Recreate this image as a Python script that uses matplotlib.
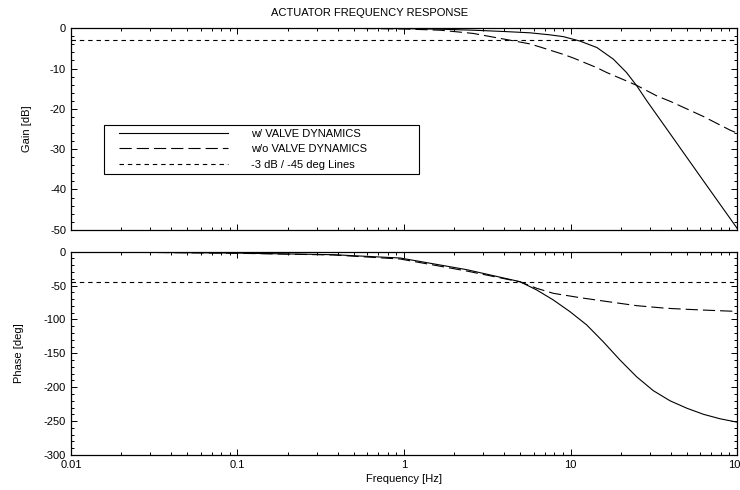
import numpy as np
import matplotlib
matplotlib.use('Agg')
import matplotlib.pyplot as plt
from matplotlib.lines import Line2D
from matplotlib.legend_handler import HandlerLine2D
from matplotlib.ticker import MultipleLocator, FixedLocator, FixedFormatter, LogLocator, NullFormatter

plt.rcParams['font.family'] = ['Liberation Sans', 'DejaVu Sans']
plt.rcParams['font.size'] = 8
plt.rcParams['axes.unicode_minus'] = False

# gain curves [dB]
freq_gain_v = [0.01, 0.1, 0.5, 1.0, 1.65, 2.6, 4.1, 5.71, 7.5, 9.06, 11.4, 14.4, 18.1, 21.7, 25.0, 28.7, 40.0, 60.0, 100.0]
gain_valve = [0.0, 0.0, -0.03, -0.1, -0.25, -0.5, -0.85, -1.15, -1.65, -2.1, -3.2, -4.8, -7.7, -11.0, -14.3, -18.0, -26.4, -36.7, -49.6]
freq_gain_nv = [0.01, 0.1, 0.5, 1.0, 1.65, 2.6, 4.1, 5.71, 6.6, 9.06, 10.4, 14.4, 16.5, 22.9, 25.0, 33.0, 40.0, 62.8, 91.0, 100.0]
gain_novalve = [0.0, 0.0, -0.05, -0.2, -0.5, -1.3, -2.8, -3.9, -4.7, -6.5, -7.4, -9.8, -11.0, -13.5, -14.2, -16.8, -18.2, -21.9, -25.3, -26.0]

# phase curves [deg]
freq_phase_v = [0.01, 0.1, 0.376, 0.95, 2.38, 4.97, 6.27, 7.88, 9.93, 12.5, 15.7, 19.8, 24.9, 31.4, 39.6, 50.0, 63.0, 79.0, 100.0]
phase_valve = [0.0, -2.0, -4.4, -9.3, -26.5, -44.2, -56.5, -71.2, -88.5, -108.0, -132.7, -159.7, -184.4, -205.0, -220.0, -231.0, -240.0, -246.5, -251.5]
freq_phase_nv = [0.01, 0.1, 0.376, 0.95, 2.38, 4.97, 6.27, 7.88, 11.4, 15.7, 24.9, 37.8, 50.0, 65.7, 100.0]
phase_novalve = [0.0, -2.3, -4.8, -10.8, -28.5, -44.5, -54.0, -61.4, -67.8, -72.7, -79.6, -83.5, -85.0, -86.3, -88.1]

gain_ref = -3.0
phase_ref = -45.0
xticks = [0.01, 0.1, 1, 10, 100]
xticklabels = ['0.01', '0.1', '1', '10', '100']

fig = plt.figure(figsize=(7.4, 4.9), dpi=100)
ax1 = fig.add_axes([0.0959, 0.531, 0.9001, 0.4115])
ax2 = fig.add_axes([0.0959, 0.0714, 0.9001, 0.4149])

solid_kw = dict(color='black', lw=0.8)
dash_kw = dict(color='black', lw=0.8, dashes=(11, 4.5))
dot_kw = dict(color='black', lw=0.8, dashes=(4, 3.5))

ax1.plot(freq_gain_v, gain_valve, label='w/ VALVE DYNAMICS', **solid_kw)
ax1.plot(freq_gain_nv, gain_novalve, label='w/o VALVE DYNAMICS', **dash_kw)
ax1.plot([0.01, 100], [gain_ref, gain_ref], label='-3 dB / -45 deg Lines', **dot_kw)

ax2.plot(freq_phase_v, phase_valve, **solid_kw)
ax2.plot(freq_phase_nv, phase_novalve, **dash_kw)
ax2.plot([0.01, 100], [phase_ref, phase_ref], **dot_kw)

for ax in (ax1, ax2):
    ax.set_xscale('log')
    ax.set_xlim(0.01, 100)
    ax.xaxis.set_major_locator(FixedLocator(xticks))
    ax.xaxis.set_minor_locator(LogLocator(base=10, subs=np.arange(2, 10)))
    ax.xaxis.set_minor_formatter(NullFormatter())
    ax.tick_params(which='both', direction='in', top=True, right=True, width=0.7)
    ax.tick_params(which='major', length=4)
    ax.tick_params(which='minor', length=2.2)
    for s in ax.spines.values():
        s.set_linewidth(0.9)

ax1.set_ylim(-50, 0)
ax1.yaxis.set_major_locator(MultipleLocator(10))
ax1.yaxis.set_minor_locator(MultipleLocator(2))
ax1.xaxis.set_major_formatter(NullFormatter())
ax1.set_ylabel('Gain [dB]', labelpad=13)

ax2.set_ylim(-300, 0)
ax2.yaxis.set_major_locator(MultipleLocator(50))
ax2.yaxis.set_minor_locator(MultipleLocator(10))
ax2.xaxis.set_major_formatter(FixedFormatter(xticklabels))
ax2.set_ylabel('Phase [deg]', labelpad=14)
ax2.set_xlabel('Frequency [Hz]', labelpad=3)

fig.text(0.5, 0.974, 'ACTUATOR FREQUENCY RESPONSE', ha='center', va='center')

leg = ax1.legend(loc='upper left', bbox_to_anchor=(0.0495, 0.2727, 0.473, 0.248),
                 mode='expand', borderaxespad=0, numpoints=2,
                 handler_map={Line2D: HandlerLine2D(marker_pad=1.0)},
                 handlelength=11.8, handletextpad=1.1,
                 labelspacing=0.5, borderpad=0.35, fancybox=False, framealpha=1)
leg.get_frame().set_edgecolor('black')
leg.get_frame().set_linewidth(0.8)

fig.savefig('out.png', dpi=100)
